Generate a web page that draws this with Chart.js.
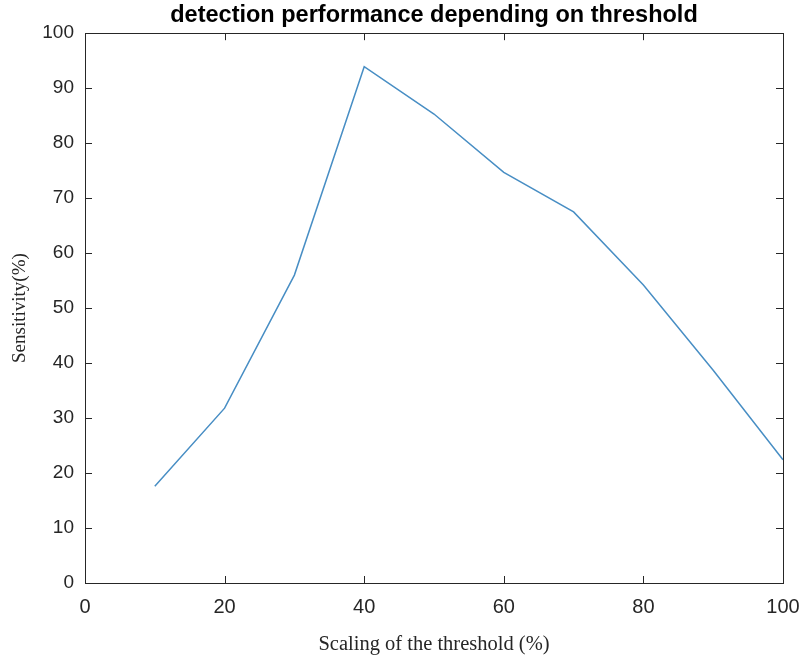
<!DOCTYPE html>
<html>
<head>
<meta charset="utf-8">
<script src="https://cdn.jsdelivr.net/npm/chart.js@4/dist/chart.umd.min.js"></script>
<style>
    html, body { margin: 0; padding: 0; background: #fff; }
    #wrap { width: 805px; height: 661px; }
</style>
</head>
<body>
<div id="wrap"><canvas id="perfChart"></canvas></div>
<script>
/* threshold scaling (%) and sensitivity (%) */
const thresholds = [10, 20, 30, 40, 50, 60, 70, 80, 90, 100];
const sensitivity = [17.6, 31.8, 56.0, 93.9, 85.3, 74.7, 67.5, 54.2, 38.7, 22.4];

/* axis ticks */
const xTicks = [0, 20, 40, 60, 80, 100];
const yTicks = [0, 10, 20, 30, 40, 50, 60, 70, 80, 90, 100];

const axisColour = '#262626';
const lineColour = 'rgb(72,142,196)';

/* box around the plot with ticks pointing inwards */
const boxFrame = {
    id: 'boxFrame',
    afterDatasetsDraw(chart) {
        const { ctx, chartArea: a, scales: { x, y } } = chart;
        const len = 7;
        ctx.save();
        ctx.strokeStyle = axisColour;
        ctx.lineWidth = 1;
        ctx.strokeRect(Math.round(a.left) + 0.5, Math.round(a.top) + 0.5,
            Math.round(a.right - a.left), Math.round(a.bottom - a.top));
        ctx.beginPath();
        xTicks.slice(1, -1).forEach(v => {
            const px = Math.round(x.getPixelForValue(v)) + 0.5;
            ctx.moveTo(px, a.bottom); ctx.lineTo(px, a.bottom - len);
            ctx.moveTo(px, a.top); ctx.lineTo(px, a.top + len);
        });
        yTicks.slice(1, -1).forEach(v => {
            const py = Math.round(y.getPixelForValue(v)) + 0.5;
            ctx.moveTo(a.left, py); ctx.lineTo(a.left + len, py);
            ctx.moveTo(a.right, py); ctx.lineTo(a.right - len, py);
        });
        ctx.stroke();
        ctx.restore();
    }
};

const ctx = document.getElementById('perfChart');
new Chart(ctx, {
    type: 'line',
    data: {
        datasets: [{
            data: thresholds.map((t, i) => ({ x: t, y: sensitivity[i] })),
            borderColor: lineColour,
            borderWidth: 1.5,
            pointRadius: 0,
            tension: 0,
            fill: false
        }]
    },
    options: {
        responsive: true,
        maintainAspectRatio: false,
        animation: false,
        layout: { padding: { left: 0, right: 22, top: 0, bottom: 0 } },
        plugins: {
            legend: { display: false },
            tooltip: { enabled: false },
            title: {
                display: true,
                text: 'detection performance depending on threshold',
                fullSize: false,
                color: '#000',
                font: { family: 'Liberation Sans, Arial', size: 23.5, weight: 'bold', lineHeight: 1.2 },
                padding: { top: 1, bottom: 4 }
            }
        },
        scales: {
            x: {
                type: 'linear',
                min: 0,
                max: 100,
                afterBuildTicks: s => { s.ticks = xTicks.map(v => ({ value: v })); },
                afterFit: s => { s.height = 78; s.paddingLeft = 0; s.paddingRight = 0; },
                grid: { display: false, drawTicks: false },
                border: { display: false },
                ticks: {
                    color: axisColour,
                    padding: 12,
                    maxRotation: 0,
                    font: { family: 'Liberation Sans, Arial', size: 20 }
                },
                title: {
                    display: true,
                    text: 'Scaling of the threshold (%)',
                    color: axisColour,
                    font: { family: 'Liberation Serif, Times New Roman', size: 20.5, lineHeight: 1.2 },
                    padding: { top: 0, bottom: 4 }
                }
            },
            y: {
                min: 0,
                max: 100,
                afterBuildTicks: s => { s.ticks = yTicks.map(v => ({ value: v })); },
                afterFit: s => { s.width = 85; s.paddingTop = 0; s.paddingBottom = 0; },
                grid: { display: false, drawTicks: false },
                border: { display: false },
                ticks: {
                    color: axisColour,
                    padding: 11,
                    font: { family: 'Liberation Sans, Arial', size: 19 }
                },
                title: {
                    display: true,
                    text: 'Sensitivity(%)',
                    color: axisColour,
                    font: { family: 'Liberation Serif, Times New Roman', size: 19, lineHeight: 1.2 },
                    padding: { top: 9, bottom: 0 }
                }
            }
        }
    },
    plugins: [boxFrame]
});
</script>
</body>
</html>
